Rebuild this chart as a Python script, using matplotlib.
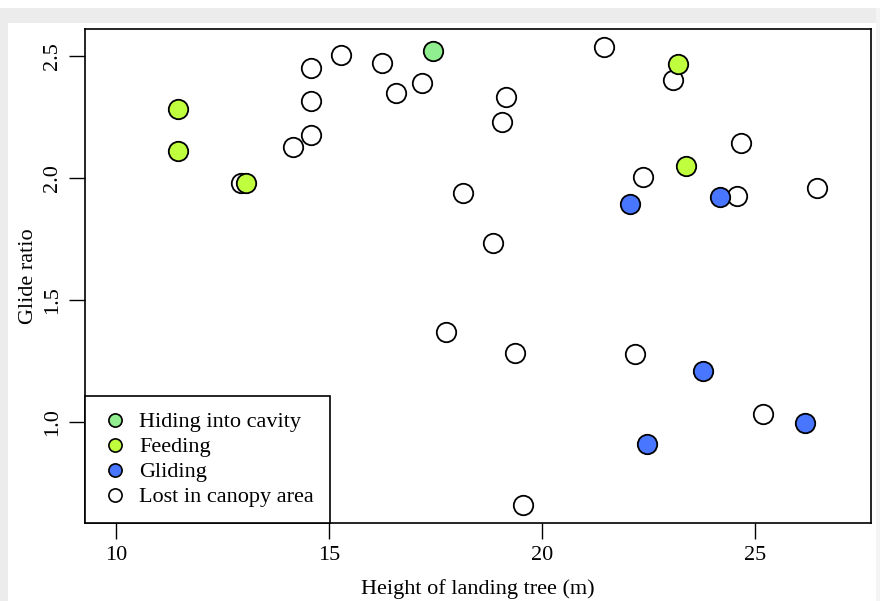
import matplotlib.pyplot as plt
from matplotlib.lines import Line2D
from matplotlib.patches import Rectangle

# Data (height of landing tree, glide ratio)
lost_x = [12.93, 14.15, 14.57, 14.57, 14.57, 15.27, 16.25, 16.56, 17.17, 18.15,
          17.75, 18.85, 19.06, 19.16, 19.37, 19.56, 21.45, 23.07, 22.37, 22.18,
          24.57, 24.66, 25.18, 26.46]
lost_y = [1.980, 2.127, 2.176, 2.316, 2.451, 2.504, 2.471, 2.348, 2.389, 1.939,
          1.369, 1.734, 2.230, 2.332, 1.283, 0.660, 2.537, 2.402, 2.004, 1.279,
          1.926, 2.143, 1.033, 1.959]

hiding_x = [17.45]
hiding_y = [2.52]

feeding_x = [11.45, 11.45, 13.04, 23.19, 23.37]
feeding_y = [2.283, 2.111, 1.980, 2.467, 2.049]

gliding_x = [22.06, 24.17, 23.77, 22.46, 26.18]
gliding_y = [1.893, 1.922, 1.209, 0.910, 0.996]

legend_labels = ['Hiding into cavity', 'Feeding', 'Gliding', 'Lost in canopy area']
colors = {'hiding': '#90EE90', 'feeding': '#C0FF3E', 'gliding': '#4876FF', 'lost': 'white'}

plt.rcParams['font.family'] = ['Liberation Serif', 'DejaVu Serif']

fig = plt.figure(figsize=(8.8, 6.01), dpi=100)
fig.patch.set_facecolor('white')

# page-like gray frame around the white panel
gray = '#ececec'
fig.patches.append(Rectangle((0, 1 - 23 / 601), 1, 15 / 601, transform=fig.transFigure,
                             facecolor=gray, edgecolor='none', zorder=0))
fig.patches.append(Rectangle((0, 0), 8 / 880, 1 - 8 / 601, transform=fig.transFigure,
                             facecolor=gray, edgecolor='none', zorder=0))
fig.patches.append(Rectangle((876 / 880, 0), 4 / 880, 1 - 8 / 601, transform=fig.transFigure,
                             facecolor='#f4f4f4', edgecolor='none', zorder=0))

ax = fig.add_axes([85 / 880, 78 / 601, 786 / 880, 494 / 601])

ms = 14
ew = 1.3
ax.plot(lost_x, lost_y, 'o', ms=ms, mfc=colors['lost'], mec='black', mew=ew, zorder=2)
ax.plot(hiding_x, hiding_y, 'o', ms=ms, mfc=colors['hiding'], mec='black', mew=ew, zorder=3)
ax.plot(feeding_x, feeding_y, 'o', ms=ms, mfc=colors['feeding'], mec='black', mew=ew, zorder=3)
ax.plot(gliding_x, gliding_y, 'o', ms=ms, mfc=colors['gliding'], mec='black', mew=ew, zorder=3)

ax.set_xlim(9.27, 27.72)
ax.set_ylim(0.586, 2.611)
ax.set_xticks([10, 15, 20, 25])
ax.set_yticks([1.0, 1.5, 2.0, 2.5])
ax.set_yticklabels(['1.0', '1.5', '2.0', '2.5'], rotation=90, va='center')
ax.tick_params(direction='out', length=11.5, width=1, labelsize=16, pad=5)
for s in ax.spines.values():
    s.set_linewidth(1.2)

ax.set_xlabel('Height of landing tree (m)', fontsize=16, labelpad=10)
ax.set_ylabel('Glide ratio', fontsize=16, labelpad=4)

handles = [Line2D([], [], ls='none', marker='o', ms=9.5, mfc=colors[k], mec='black', mew=1.2)
           for k in ['hiding', 'feeding', 'gliding', 'lost']]
leg = ax.legend(handles, legend_labels, loc='lower left', bbox_to_anchor=(0, 0),
                fontsize=16, frameon=True, fancybox=False, borderaxespad=0,
                handletextpad=0.45, labelspacing=0.2, borderpad=0.7, handlelength=1.3)
leg.get_frame().set_edgecolor('black')
leg.get_frame().set_linewidth(1.2)
leg.get_frame().set_alpha(1)

fig.savefig('out.png', dpi=100, facecolor=fig.get_facecolor())
